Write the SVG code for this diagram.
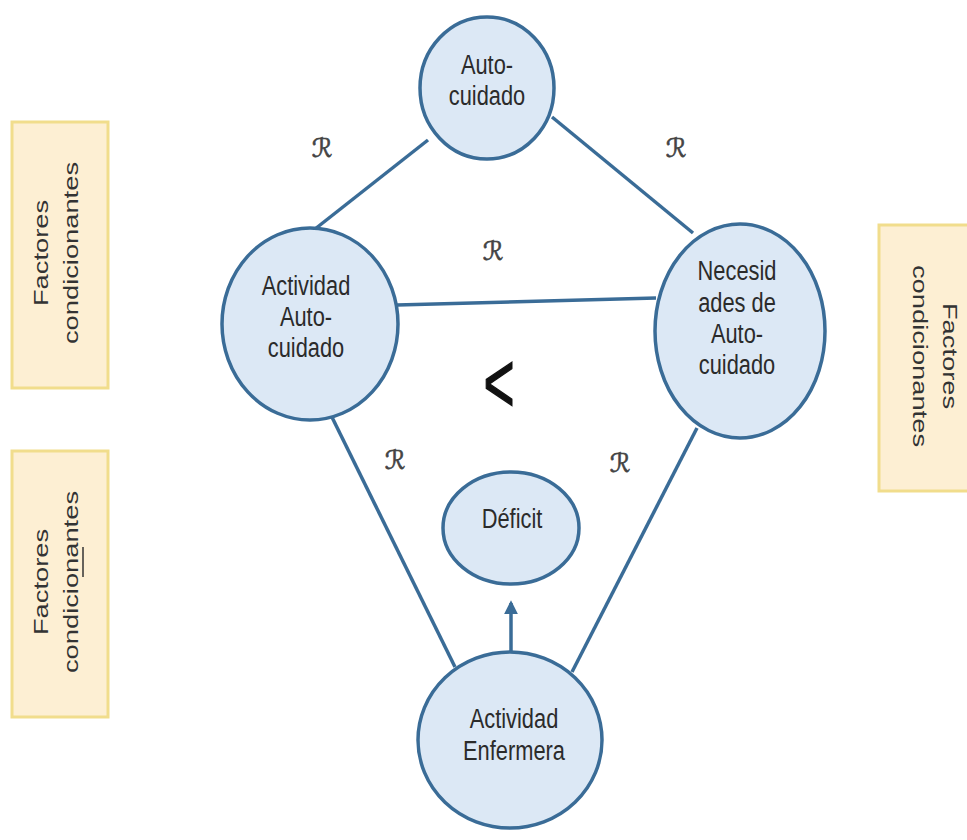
<svg xmlns="http://www.w3.org/2000/svg" width="967" height="840" viewBox="0 0 967 840">
  <defs>
    <style>
      .node { fill: #dce8f5; stroke: #3a6c97; stroke-width: 3.5; }
      .box { fill: #fdefd3; stroke: #f1dd8c; stroke-width: 3; }
      .conn { stroke: #3a6c97; stroke-width: 3.5; fill: none; }
      .lbl { font-family: "Liberation Sans", Arial, sans-serif; font-size: 28px; fill: #2b2b2b; text-anchor: middle; }
      .side { font-family: "Liberation Sans", Arial, sans-serif; font-size: 21px; fill: #333; text-anchor: middle; }
      .rel { font-family: "DejaVu Serif", "DejaVu Sans", serif; font-style: italic; font-size: 26px; fill: #444; stroke: #444; stroke-width: 0.6; text-anchor: middle; }
    </style>
    <marker id="arrow" viewBox="0 0 10 10" refX="8" refY="5" markerWidth="4" markerHeight="4" orient="auto">
      <path d="M0,0 L10,5 L0,10 z" fill="#3a6c97"/>
    </marker>
  </defs>
  <rect width="967" height="840" fill="#ffffff"/>

  <g id="connectors">
    <line class="conn" x1="315" y1="229" x2="428" y2="140"/>
    <line class="conn" x1="552" y1="117" x2="693" y2="233"/>
    <line class="conn" x1="397" y1="305" x2="656" y2="298"/>
    <line class="conn" x1="325" y1="403" x2="455" y2="667"/>
    <line class="conn" x1="697" y1="428" x2="572" y2="672"/>
    <line class="conn" x1="511" y1="653" x2="511" y2="603" marker-end="url(#arrow)"/>
  </g>

  <g id="rel-labels">
    <text class="rel" x="322" y="157">ℛ</text>
    <text class="rel" x="676" y="157">ℛ</text>
    <text class="rel" x="493" y="260">ℛ</text>
    <text class="rel" x="395" y="469">ℛ</text>
    <text class="rel" x="620" y="472">ℛ</text>
  </g>

  <g id="less-than">
    <text x="0" y="0" transform="translate(499,412) scale(0.62,1)" font-family="Liberation Sans, Arial, sans-serif" font-size="86" fill="#111" stroke="#111" stroke-width="1.5" text-anchor="middle">&lt;</text>
  </g>

  <g id="node-autocuidado">
    <ellipse class="node" cx="487" cy="88" rx="67" ry="71"/>
    <g transform="translate(487,0) scale(0.78,1)">
      <text class="lbl" x="0" y="74">Auto-</text>
      <text class="lbl" x="0" y="105">cuidado</text>
    </g>
  </g>

  <g id="node-actividad-autocuidado">
    <ellipse class="node" cx="310" cy="324" rx="88" ry="96"/>
    <g transform="translate(306,0) scale(0.78,1)">
      <text class="lbl" x="0" y="295">Actividad</text>
      <text class="lbl" x="0" y="326">Auto-</text>
      <text class="lbl" x="0" y="357">cuidado</text>
    </g>
  </g>

  <g id="node-necesidades">
    <ellipse class="node" cx="740" cy="331" rx="85" ry="107"/>
    <g transform="translate(737,0) scale(0.78,1)">
      <text class="lbl" x="0" y="280">Necesid</text>
      <text class="lbl" x="0" y="312">ades de</text>
      <text class="lbl" x="0" y="343">Auto-</text>
      <text class="lbl" x="0" y="374">cuidado</text>
    </g>
  </g>

  <g id="node-deficit">
    <ellipse class="node" cx="511" cy="528" rx="68" ry="56"/>
    <g transform="translate(512,0) scale(0.78,1)">
      <text class="lbl" x="0" y="528">Déficit</text>
    </g>
  </g>

  <g id="node-enfermera">
    <ellipse class="node" cx="510" cy="740" rx="92" ry="88"/>
    <g transform="translate(514,0) scale(0.78,1)">
      <text class="lbl" x="0" y="728">Actividad</text>
      <text class="lbl" x="0" y="760">Enfermera</text>
    </g>
  </g>

  <g id="box-left-top">
    <rect class="box" x="12" y="122" width="96" height="266"/>
    <g transform="translate(0,253) rotate(-90)">
      <text class="side" x="0" y="48" transform="scale(1.3,1)">Factores</text>
      <text class="side" x="0" y="78" transform="scale(1.3,1)">condicionantes</text>
    </g>
  </g>

  <g id="box-left-bottom">
    <rect class="box" x="12" y="451" width="96" height="266"/>
    <g transform="translate(0,582) rotate(-90)">
      <text class="side" x="0" y="48" transform="scale(1.3,1)">Factores</text>
      <text class="side" x="0" y="78" transform="scale(1.3,1)">condicionantes</text>
    </g>
    <line x1="83" y1="547" x2="83" y2="577" stroke="#333" stroke-width="1.5"/>
  </g>

  <g id="box-right">
    <rect class="box" x="879" y="225" width="90" height="266"/>
    <g transform="translate(0,356) rotate(90)">
      <text class="side" x="0" y="-943" transform="scale(1.3,1)">Factores</text>
      <text class="side" x="0" y="-913" transform="scale(1.3,1)">condicionantes</text>
    </g>
  </g>
</svg>
